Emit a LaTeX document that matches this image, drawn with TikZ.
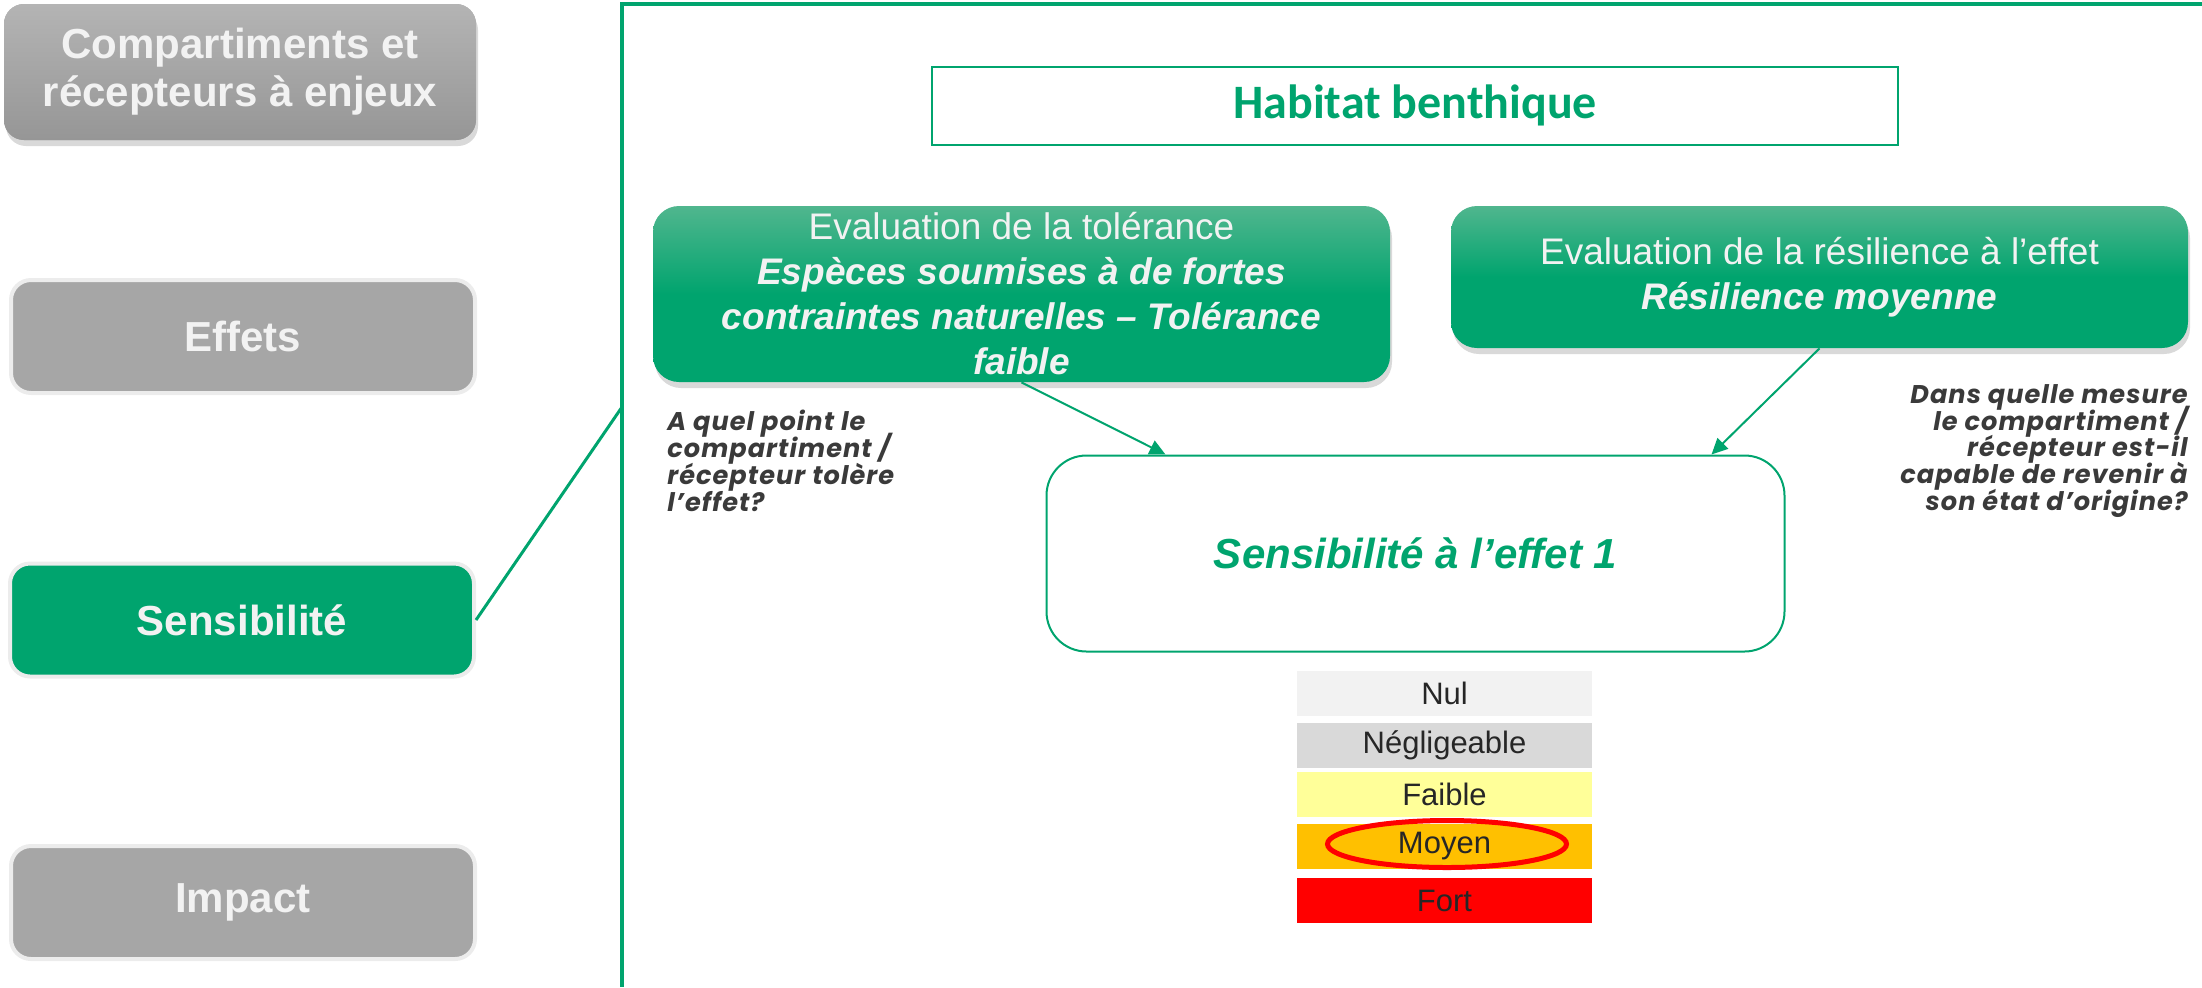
\documentclass[tikz,border=0pt]{standalone}
\usepackage{fontspec}
\setmainfont{Liberation Sans}
\newfontfamily\calibri{Carlito}
\newfontfamily\gothique[LetterSpace=4]{Poppins}
\usepackage{xcolor}
\usetikzlibrary{arrows.meta,shapes,shadows}
\definecolor{vert}{RGB}{0,164,110}
\definecolor{vertclair}{RGB}{80,182,142}
\definecolor{grisbox}{RGB}{166,166,166}
\definecolor{grishaut}{RGB}{180,180,180}
\definecolor{grisbas}{RGB}{150,150,150}
\definecolor{bord}{RGB}{236,236,236}
\definecolor{texteclair}{RGB}{242,242,242}
\definecolor{textegris}{RGB}{58,58,58}
\definecolor{nulc}{RGB}{242,242,242}
\definecolor{neglc}{RGB}{217,217,217}
\definecolor{faiblec}{RGB}{255,255,153}
\definecolor{moyenc}{RGB}{255,192,0}
\definecolor{fortc}{RGB}{255,0,0}
\lineskiplimit=-20pt

\begin{document}
\begin{tikzpicture}[x=0.5pt,y=-0.5pt]
        \tikzstyle{etape}=[draw=bord,line width=2pt,fill=grisbox,rounded corners=10pt,minimum width=232pt,minimum height=56.5pt,text=texteclair,align=center,font=\fontsize{21}{24}\selectfont\bfseries]
        \tikzstyle{bloc}=[rounded corners=13pt,top color=vertclair,bottom color=vert,middle color=vert,drop shadow={shadow xshift=1pt,shadow yshift=-3pt,opacity=0.3},minimum width=368.5pt,text=texteclair,align=center,font=\fontsize{18.5}{22.5}\selectfont]
        \tikzstyle{question}=[text=textegris,inner sep=0pt,font=\gothique\fontsize{12.8}{13.4}\selectfont\bfseries\itshape]
        \tikzstyle{niveau}=[minimum width=147.5pt,minimum height=22.5pt,inner sep=0pt,text=black!85,font=\fontsize{15.5}{18}\selectfont]
        \tikzstyle{fleche}=[vert,line width=1pt,-{Triangle[length=8pt,width=7.5pt]}]

        \useasboundingbox (0,0) rectangle (2202,987);

        \draw node at (240, 72) [etape, draw=none, top color=grishaut, bottom color=grisbas, minimum width=236pt, minimum height=68pt, drop shadow={shadow xshift=1pt,shadow yshift=-3pt,opacity=0.3}] (etape1) {Compartiments et\\récepteurs à enjeux};
        \draw node at (243, 336.5) [etape] (etape2) {Effets};
        \draw node at (242, 620) [etape, fill=vert] (etape3) {Sensibilité};
        \draw node at (243, 902.5) [etape] (etape4) {Impact};

        \coordinate (basCadre) at (622, 987);
        \coordinate (cadre) at (622, 407);
        \coordinate (coin) at (622, 4);
        \coordinate (finCadre) at (2202, 4);
        \draw [vert, line width=1.6pt] (basCadre) -- (coin) -- (finCadre);
        \draw [vert, line width=1.5pt] (etape3.east) -- (cadre);

        \draw node at (1415, 105.5) [draw=vert, line width=1pt, minimum width=483pt, minimum height=39pt, text=vert, font=\calibri\fontsize{24}{28}\selectfont\bfseries] (habitat) {Habitat benthique};

        \draw node at (1021.5, 294) [bloc, minimum height=88pt] (tol) {Evaluation de la tolérance\\{\bfseries\itshape Espèces soumises à de fortes}\\{\bfseries\itshape contraintes naturelles – Tolérance}\\{\bfseries\itshape faible}};
        \draw node at (1819.5, 277) [bloc, minimum height=71pt] (res) {Evaluation de la résilience à l’effet\\{\bfseries\itshape Résilience moyenne}};

        \draw node at (1415.5, 553.5) [draw=vert, line width=1pt, rounded corners=20pt, minimum width=369pt, minimum height=98pt, text=vert, font=\fontsize{21}{25}\selectfont\bfseries\itshape] (sens) {Sensibilité à l’effet 1};

        \draw node at (667, 410) [question, anchor=north west, align=left] (questionTol) {A quel point le\\compartiment /\\récepteur tolère\\l’effet?};
        \draw node at (2188, 384) [question, anchor=north east, align=right] (questionRes) {Dans quelle mesure\\le compartiment /\\récepteur est-il\\capable de revenir à\\son état d’origine?};

        \draw [fleche] (tol.south) to ([xshift=-125pt]sens.north);
        \draw [fleche] (res.south) to ([xshift=148pt]sens.north);

        \draw node at (1444.5, 693) [niveau, fill=nulc] (nul) {Nul};
        \draw node at (1444.5, 745.5) [niveau, fill=neglc] (negligeable) {Négligeable};
        \draw node at (1444.5, 794.5) [niveau, fill=faiblec] (faible) {Faible};
        \draw node at (1444.5, 846.5) [niveau, fill=moyenc] (moyen) {Moyen};
        \draw node at (1444.5, 900.5) [niveau, fill=fortc] (fort) {Fort};
        \draw node at (1447, 844) [ellipse, draw=red, line width=2.5pt, inner sep=0pt, minimum width=119.5pt, minimum height=23.5pt] (choix) {};
    \end{tikzpicture}
\end{document}
